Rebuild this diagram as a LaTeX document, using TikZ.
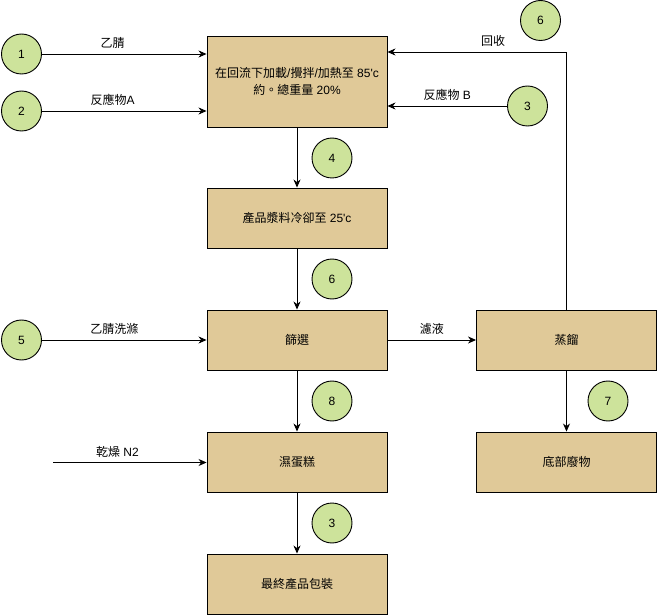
\documentclass[tikz,border=0pt]{standalone}
\usepackage{fontspec}
\setmainfont{Liberation Sans}
\newfontfamily\cjk{Noto Sans CJK TC}
\newcommand{\zh}[1]{{\cjk #1}}
\usetikzlibrary{arrows.meta}

\definecolor{boxfill}{RGB}{224,201,152}
\definecolor{ballfill}{RGB}{205,227,155}

\begin{document}
\begin{tikzpicture}
[
	x 					= 1pt,
	y 					= -1pt,
	line width 			= 0.9pt,
	every node/.style 	= {font = \fontsize{12}{14}\selectfont},
	stepbox/.style 		=
	{
		draw,
		fill 			= boxfill,
		minimum width 	= 180pt,
		minimum height 	= 60pt,
		inner sep 		= 0pt,
		align 			= center,
		font 			= \fontsize{12}{17}\selectfont
	},
	ball/.style 		=
	{
		circle, draw,
		fill 			= ballfill,
		minimum size 	= 40pt,
		inner sep 		= 0pt
	},
	flow/.style 		= {-{Stealth[length = 8pt, width = 7pt, inset = 2.5pt]}},
	tag/.style 			= {above, inner sep = 5pt},
]

\useasboundingbox (0,0) rectangle (657,615);

% process steps
\node [stepbox, minimum height = 91pt] (mix) at (297,81.5)
	{\zh{在回流下加載}/\zh{攪拌}/\zh{加熱至} 85\textquotesingle c\\\zh{約。總重量} 20\%};
\node [stepbox] (cool)	at (297,218)	{\zh{產品漿料冷卻至} 25\textquotesingle c};
\node [stepbox] (sieve)	at (297,340)	{\zh{篩選}};
\node [stepbox] (cake)	at (297,462)	{\zh{濕蛋糕}};
\node [stepbox] (pack)	at (297,584)	{\zh{最終產品包裝}};
\node [stepbox] (still)	at (566.5,340)	{\zh{蒸餾}};
\node [stepbox] (waste)	at (566.5,462)	{\zh{底部廢物}};

% numbered streams
\foreach \name/\pos/\num in
{
	b1/{21.5,54}/1, b2/{21.5,111}/2, b3/{527.5,106}/3, b6/{540.5,20.5}/6,
	b4/{332,158}/4, b6b/{332,279}/6, b5/{21.5,340}/5, b8/{332,401}/8,
	b7/{608,401}/7, b3b/{332,523}/3
}
{
	\node [ball] (\name) at (\pos) {\num};
}

% feeds
\draw [flow] (b1) -- (b1 -| mix.west) node [tag, pos = 0.43] {\zh{乙腈}};
\draw [flow] (b2) -- (b2 -| mix.west) node [tag, pos = 0.43] {\zh{反應物}A};
\draw [flow] (b3) -- (b3 -| mix.east) node [tag, pos = 0.5] {\zh{反應物} B};
\draw [flow] (b5) -- (b5 -| sieve.west) node [tag, pos = 0.44] {\zh{乙腈洗滌}};

\coordinate (dry) at (53,462.5);
\draw [flow] (dry) -- (dry -| cake.west) node [tag, pos = 0.42] {\zh{乾燥} N2};

% recycle from the still
\coordinate (turn) at (566.5,52);
\draw [flow] (still) -- (turn) -- (turn -| mix.east) node [tag, pos = 0.41] {\zh{回收}};

\draw [flow] (sieve) -- (still) node [tag, midway] {\zh{濾液}};

\foreach \a/\b in {mix/cool, cool/sieve, sieve/cake, cake/pack, still/waste}
{
	\draw [flow] (\a) -- (\b);
}

\end{tikzpicture}
\end{document}
